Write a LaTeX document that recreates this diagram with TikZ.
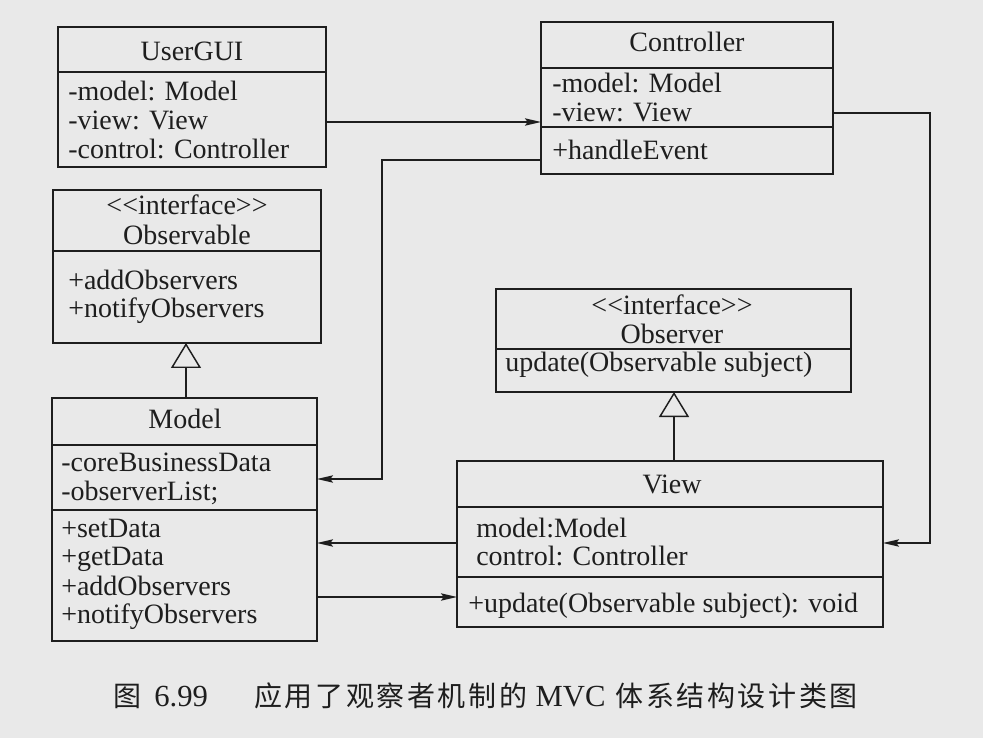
\documentclass[tikz,border=0pt]{standalone}
\usepackage{fontspec}
\setmainfont{Liberation Serif}
\newfontfamily\cjk{Noto Sans CJK SC}
\usetikzlibrary{arrows.meta}
\definecolor{paper}{RGB}{233,233,233}
\definecolor{ink}{RGB}{30,30,30}
\newcommand\cc[1]{\makebox[22.95pt][l]{#1}}
\begin{document}
\begin{tikzpicture}[x=0.75pt,y=-0.75pt,
  cls/.style={draw=ink, line width=1.7pt, inner sep=0pt, outer sep=0pt, anchor=north west},
  divl/.style={draw=ink, line width=1.7pt},
  txt/.style={inner sep=0pt, anchor=base west, text=ink, font=\fontsize{21}{25}\selectfont},
  ttl/.style={inner sep=0pt, anchor=base, text=ink, font=\fontsize{21}{25}\selectfont},
  conn/.style={draw=ink, line width=1.1pt, -{Stealth[length=12pt,width=5.5pt,inset=2pt]}},
  gen/.style={draw=ink, line width=1.1pt, -{Triangle[open,length=18.75pt,width=22.5pt]}}
]
\fill[paper] (0,0) rectangle (983,738);
\useasboundingbox (0,0) rectangle (983,738);

% ---------------- UserGUI
\node[cls, minimum width=268*0.75pt, minimum height=140*0.75pt] (usergui) at (58,27) {};
\draw[divl] (usergui.west |- 0,72) -- (usergui.east |- 0,72);
\node[ttl] (ug0) at (192,61) {UserGUI};
\node[txt] (ug1) at (68,101) {-model: Model};
\node[txt] (ug2) at (68,130) {-view: View};
\node[txt] (ug3) at (68,159) {-control: Controller};

% ---------------- Observable
\node[cls, minimum width=268*0.75pt, minimum height=153*0.75pt] (observable) at (53,190) {};
\draw[divl] (observable.west |- 0,251) -- (observable.east |- 0,251);
\node[ttl] (ob0) at (187,215) {<\kern0pt<interface>\kern0pt>};
\node[ttl] (ob1) at (187,245) {Observable};
\node[txt] (ob2) at (68,290) {+addObservers};
\node[txt] (ob3) at (68,318) {+notifyObservers};

% ---------------- Model
\node[cls, minimum width=265*0.75pt, minimum height=243*0.75pt] (model) at (52,398) {};
\draw[divl] (model.west |- 0,445) -- (model.east |- 0,445);
\draw[divl] (model.west |- 0,510) -- (model.east |- 0,510);
\node[ttl] (mo0) at (185,428) {Model};
\node[txt] (mo1) at (61,471) {-coreBusinessData};
\node[txt] (mo2) at (61,500) {-observerList;};
\node[txt] (mo3) at (61,537) {+setData};
\node[txt] (mo4) at (61,565) {+getData};
\node[txt] (mo5) at (61,595) {+addObservers};
\node[txt] (mo6) at (61,623) {+notifyObservers};

% ---------------- Controller
\node[cls, minimum width=292*0.75pt, minimum height=152*0.75pt] (controller) at (541,22) {};
\draw[divl] (controller.west |- 0,68) -- (controller.east |- 0,68);
\draw[divl] (controller.west |- 0,127) -- (controller.east |- 0,127);
\node[ttl] (co0) at (687,52) {Controller};
\node[txt] (co1) at (552,93) {-model: Model};
\node[txt] (co2) at (552,122) {-view: View};
\node[txt] (co3) at (552,160) {+handleEvent};

% ---------------- Observer
\node[cls, minimum width=355*0.75pt, minimum height=103*0.75pt] (observer) at (496,289) {};
\draw[divl] (observer.west |- 0,349) -- (observer.east |- 0,349);
\node[ttl] (os0) at (672,315) {<\kern0pt<interface>\kern0pt>};
\node[ttl] (os1) at (672,344) {Observer};
\node[txt] (os2) at (505,372) {update(Observable subject)};

% ---------------- View
\node[cls, minimum width=426*0.75pt, minimum height=166*0.75pt] (view) at (457,461) {};
\draw[divl] (view.west |- 0,507) -- (view.east |- 0,507);
\draw[divl] (view.west |- 0,577) -- (view.east |- 0,577);
\node[ttl] (vi0) at (672,493) {View};
\node[txt] (vi1) at (476,537) {model:Model};
\node[txt] (vi2) at (476,565) {control: Controller};
\node[txt] (vi3) at (468,612) {+update(Observable subject): void};

% ---------------- connectors
\draw[conn] (usergui.east |- 0,122) -- (controller.west |- 0,122);
\draw[conn] (controller.west |- 0,160) -- (382,160) -- (382,479) -- (model.east |- 0,479);
\draw[conn] (controller.east |- 0,113) -- (930,113) -- (930,543) -- (view.east |- 0,543);
\draw[conn] (view.west |- 0,543) -- (model.east |- 0,543);
\draw[conn] (model.east |- 0,597) -- (view.west |- 0,597);
\draw[gen] (186,0 |- model.north) -- (186,0 |- observable.south);
\draw[gen] (674,0 |- view.north) -- (674,0 |- observer.south);

% ---------------- caption
\node[inner sep=0pt, anchor=west, text=ink] (caption) at (113,696)
  {\makebox[30.75pt][l]{\cjk\fontsize{21}{25}\selectfont 图}%
   \makebox[75pt][l]{\fontsize{23}{25}\selectfont 6.99}%
   \makebox[211pt][l]{\cjk\fontsize{21}{25}\selectfont\cc{应}\cc{用}\cc{了}\cc{观}\cc{察}\cc{者}\cc{机}\cc{制}\cc{的}}%
   \makebox[60pt][l]{\fontsize{23}{25}\selectfont MVC}%
   {\cjk\fontsize{21}{25}\selectfont\cc{体}\cc{系}\cc{结}\cc{构}\cc{设}\cc{计}\cc{类}图}};
\end{tikzpicture}
\end{document}
